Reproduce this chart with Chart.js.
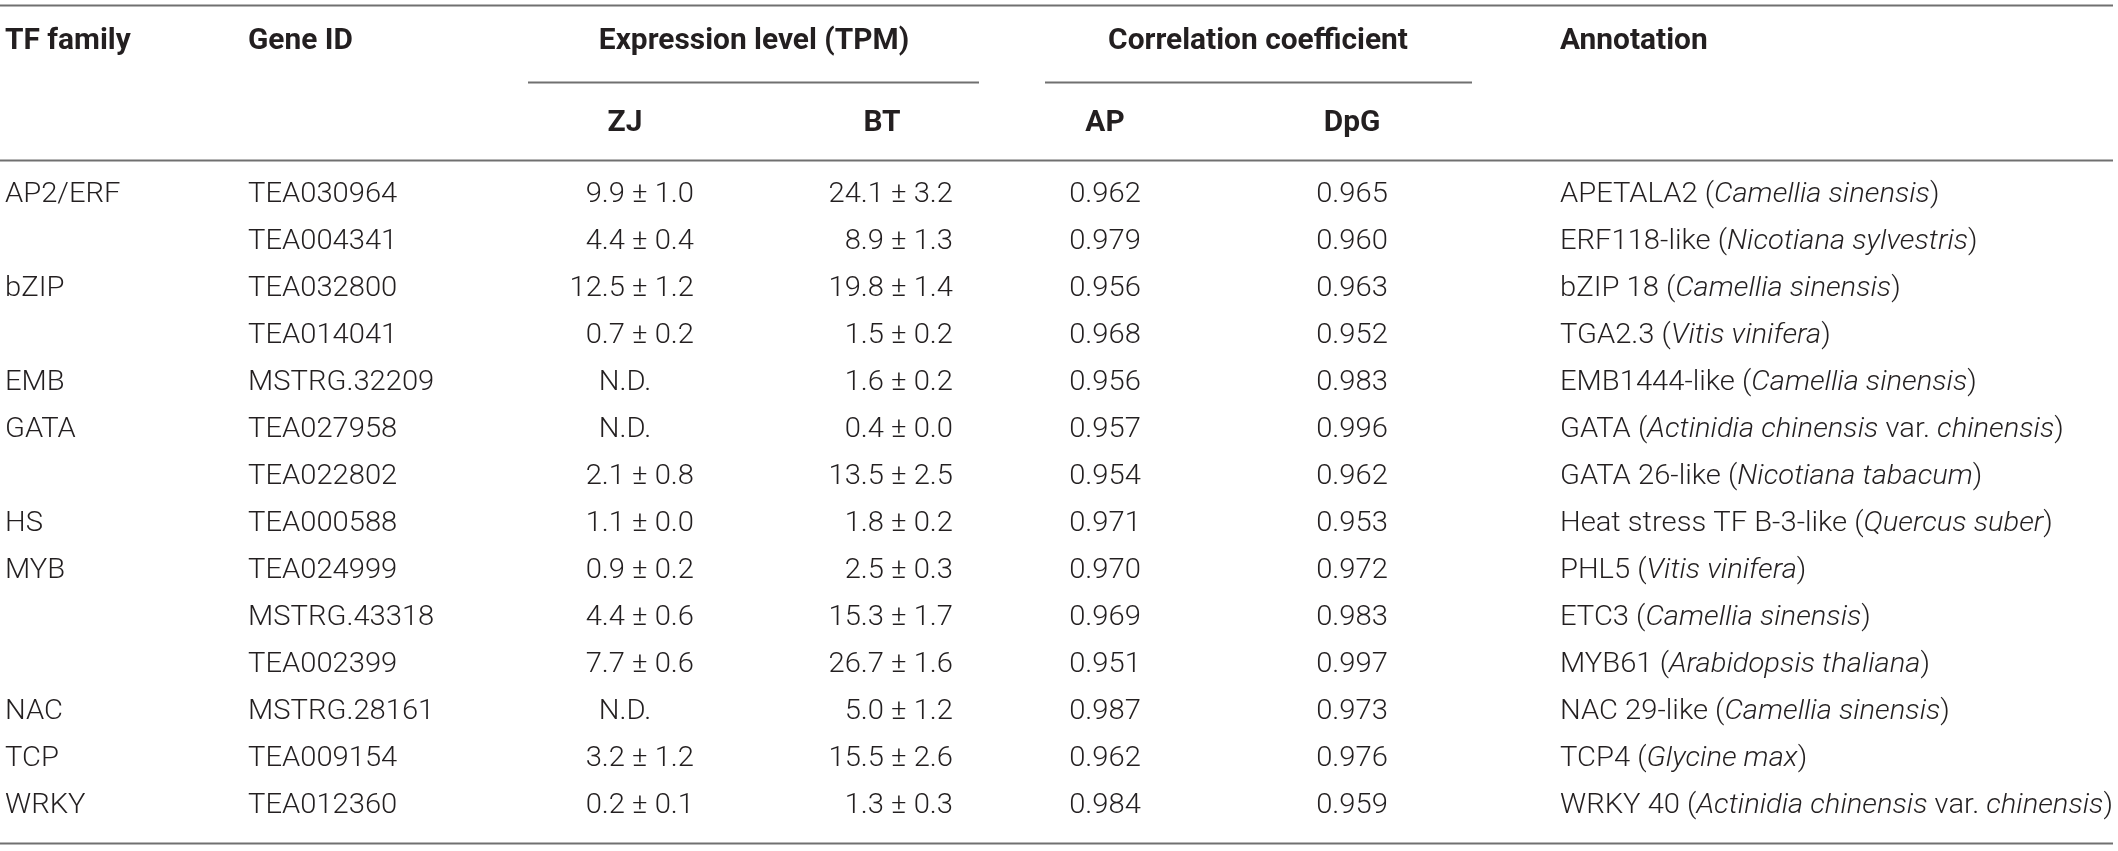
<!DOCTYPE html>
<html>
<head>
<meta charset="utf-8">
<script src="https://cdn.jsdelivr.net/npm/chart.js@4.4.1/dist/chart.umd.min.js"></script>
<style>
  html, body { margin: 0; padding: 0; background: #fff; overflow: hidden; }
  canvas { display: block; }
</style>
</head>
<body>
<canvas id="tfTable" width="2118" height="851"></canvas>
<script>
// table data, one entry per gene row
const headerTop = ['TF family', 'Gene ID', 'Expression level (TPM)', 'Correlation coefficient', 'Annotation'];
const headerSub = ['ZJ', 'BT', 'AP', 'DpG'];

const families = ['AP2/ERF', '', 'bZIP', '', 'EMB', 'GATA', '', 'HS', 'MYB', '', '', 'NAC', 'TCP', 'WRKY'];
const geneIds = ['TEA030964', 'TEA004341', 'TEA032800', 'TEA014041', 'MSTRG.32209', 'TEA027958', 'TEA022802',
                 'TEA000588', 'TEA024999', 'MSTRG.43318', 'TEA002399', 'MSTRG.28161', 'TEA009154', 'TEA012360'];
// null = N.D.
const zjMean = [9.9, 4.4, 12.5, 0.7, null, null, 2.1, 1.1, 0.9, 4.4, 7.7, null, 3.2, 0.2];
const zjSd   = [1.0, 0.4, 1.2, 0.2, null, null, 0.8, 0.0, 0.2, 0.6, 0.6, null, 1.2, 0.1];
const btMean = [24.1, 8.9, 19.8, 1.5, 1.6, 0.4, 13.5, 1.8, 2.5, 15.3, 26.7, 5.0, 15.5, 1.3];
const btSd   = [3.2, 1.3, 1.4, 0.2, 0.2, 0.0, 2.5, 0.2, 0.3, 1.7, 1.6, 1.2, 2.6, 0.3];
const apCorr  = [0.962, 0.979, 0.956, 0.968, 0.956, 0.957, 0.954, 0.971, 0.970, 0.969, 0.951, 0.987, 0.962, 0.984];
const dpgCorr = [0.965, 0.960, 0.963, 0.952, 0.983, 0.996, 0.962, 0.953, 0.972, 0.983, 0.997, 0.973, 0.976, 0.959];
// *...* marks italic species names
const annotations = [
  'APETALA2 (*Camellia sinensis*)',
  'ERF118-like (*Nicotiana sylvestris*)',
  'bZIP 18 (*Camellia sinensis*)',
  'TGA2.3 (*Vitis vinifera*)',
  'EMB1444-like (*Camellia sinensis*)',
  'GATA (*Actinidia chinensis* var. *chinensis*)',
  'GATA 26-like (*Nicotiana tabacum*)',
  'Heat stress TF B-3-like (*Quercus suber*)',
  'PHL5 (*Vitis vinifera*)',
  'ETC3 (*Camellia sinensis*)',
  'MYB61 (*Arabidopsis thaliana*)',
  'NAC 29-like (*Camellia sinensis*)',
  'TCP4 (*Glycine max*)',
  'WRKY 40 (*Actinidia chinensis* var. *chinensis*)'
];

// layout: x in canvas px units, y in row units (body rows are 0..13)
const colX = { family: 5, gene: 248, zj: 694, zjMid: 625, bt: 953, btMid: 882, expr: 754,
               ap: 1105, dpg: 1352, corr: 1258, annot: 1560 };
const rowTop = -3.255, rowSub = -1.511;
const rules = [
  { y: -4.043, x1: 0, x2: 2113 },
  { y: -2.404, x1: 528, x2: 979 },
  { y: -2.404, x1: 1045, x2: 1472 },
  { y: -0.755, x1: 0, x2: 2113 },
  { y: 13.787, x1: 0, x2: 2113 }
];
const BODY = '300 27px Roboto, "Liberation Sans", sans-serif';
const BODY_IT = 'italic 300 27px Roboto, "Liberation Sans", sans-serif';
const HEAD = 'bold 29px Roboto, "Liberation Sans", sans-serif';
const BODY_STRETCH = 1.08, HEAD_STRETCH = 1.03;
const INK = '#231f20';

const fmtPm = (m, s) => m.toFixed(1) + ' \u00b1 ' + s.toFixed(1);

// one scatter dataset per column; each point carries its cell text
function column(label, x, rows, texts, align, head) {
  return {
    label,
    data: rows.map(r => ({ x, y: r })),
    texts,
    align,
    head: !!head,
    pointRadius: 0,
    pointHoverRadius: 0
  };
}

const bodyRows = geneIds.map((_, i) => i);
const famRows = bodyRows.filter(i => families[i]);
const zjRows = bodyRows.filter(i => zjMean[i] !== null);
const ndRows = bodyRows.filter(i => zjMean[i] === null);

const datasets = [
  column('head-family', colX.family, [rowTop], [headerTop[0]], 'left', true),
  column('head-gene', colX.gene, [rowTop], [headerTop[1]], 'left', true),
  column('head-expr', colX.expr, [rowTop], [headerTop[2]], 'center', true),
  column('head-corr', colX.corr, [rowTop], [headerTop[3]], 'center', true),
  column('head-annot', colX.annot, [rowTop], [headerTop[4]], 'left', true),
  column('sub-zj', colX.zjMid, [rowSub], [headerSub[0]], 'center', true),
  column('sub-bt', colX.btMid, [rowSub], [headerSub[1]], 'center', true),
  column('sub-ap', colX.ap, [rowSub], [headerSub[2]], 'center', true),
  column('sub-dpg', colX.dpg, [rowSub], [headerSub[3]], 'center', true),
  column('family', colX.family, famRows, famRows.map(i => families[i]), 'left'),
  column('gene', colX.gene, bodyRows, geneIds, 'left'),
  column('zj', colX.zj, zjRows, zjRows.map(i => fmtPm(zjMean[i], zjSd[i])), 'right'),
  column('zj-nd', colX.zjMid, ndRows, ndRows.map(() => 'N.D.'), 'center'),
  column('bt', colX.bt, bodyRows, bodyRows.map(i => fmtPm(btMean[i], btSd[i])), 'right'),
  column('ap', colX.ap, bodyRows, apCorr.map(v => v.toFixed(3)), 'center'),
  column('dpg', colX.dpg, bodyRows, dpgCorr.map(v => v.toFixed(3)), 'center'),
  column('annot', colX.annot, bodyRows, annotations, 'left')
];

function drawCell(ctx, text, px, py, align, head) {
  const sx = head ? HEAD_STRETCH : BODY_STRETCH;
  const parts = text.split('*').map((t, k) => ({ t, font: head ? HEAD : (k % 2 ? BODY_IT : BODY) }))
    .filter(p => p.t.length);
  let total = 0;
  parts.forEach(p => { ctx.font = p.font; p.w = ctx.measureText(p.t).width * sx; total += p.w; });
  let cx = align === 'right' ? px - total : align === 'center' ? px - total / 2 : px;
  parts.forEach(p => {
    ctx.font = p.font;
    ctx.save();
    ctx.translate(cx, py);
    ctx.scale(sx, 1);
    ctx.fillText(p.t, 0, 0);
    ctx.restore();
    cx += p.w;
  });
}

const tablePlugin = {
  id: 'tableCells',
  afterDatasetsDraw(chart) {
    const { ctx, scales: { x, y } } = chart;
    ctx.save();
    ctx.strokeStyle = '#707070';
    ctx.lineWidth = 2;
    rules.forEach(r => {
      const yy = Math.round(y.getPixelForValue(r.y)) + 0.5;
      ctx.beginPath();
      ctx.moveTo(x.getPixelForValue(r.x1), yy);
      ctx.lineTo(x.getPixelForValue(r.x2), yy);
      ctx.stroke();
    });
    ctx.fillStyle = INK;
    ctx.textAlign = 'left';
    ctx.textBaseline = 'middle';
    chart.data.datasets.forEach((ds, i) => {
      chart.getDatasetMeta(i).data.forEach((pt, j) => {
        drawCell(ctx, ds.texts[j], pt.x, pt.y, ds.align, ds.head);
      });
    });
    ctx.restore();
  }
};

new Chart(document.getElementById('tfTable'), {
  type: 'scatter',
  data: { datasets },
  options: {
    responsive: false,
    animation: false,
    devicePixelRatio: 1,
    layout: { padding: 0 },
    events: [],
    plugins: { legend: { display: false }, tooltip: { enabled: false } },
    scales: {
      x: { type: 'linear', min: 0, max: 2118, display: false },
      y: { type: 'linear', min: -4.149, max: 13.957, reverse: true, display: false }
    }
  },
  plugins: [tablePlugin]
});
</script>
</body>
</html>
